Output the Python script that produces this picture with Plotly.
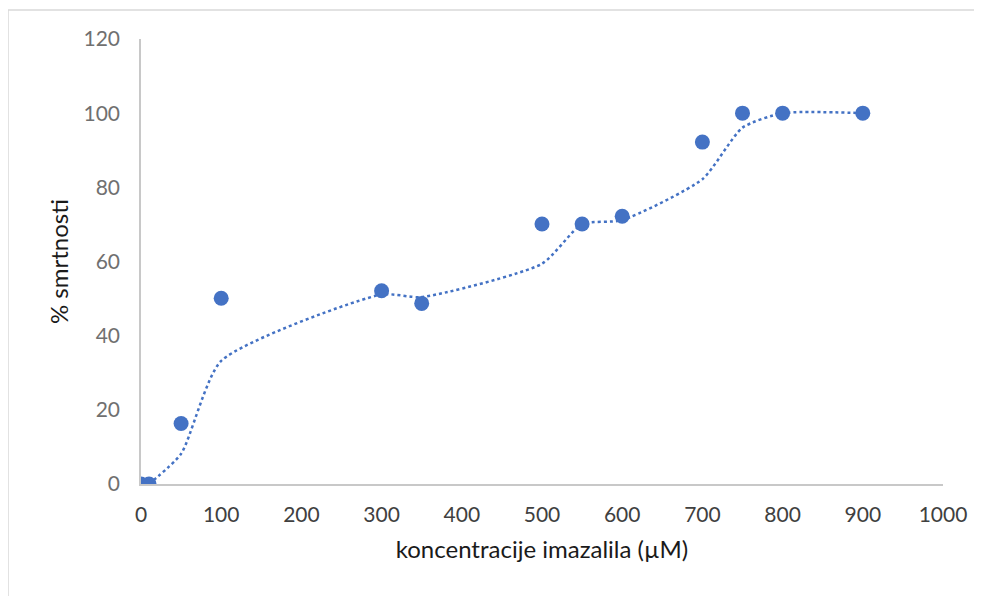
import plotly.graph_objects as go
import pandas as pd

# concentrations (µM) and mortality (%)
konc = [0, 10, 50, 100, 300, 350, 500, 550, 600, 700, 750, 800, 900]
smrt = [0, 0, 16.3, 50.1, 52.1, 48.7, 70.1, 70.1, 72.2, 92.2, 100, 100, 100]

x_ticks = [0, 100, 200, 300, 400, 500, 600, 700, 800, 900, 1000]
y_ticks = [0, 20, 40, 60, 80, 100, 120]

# 2-period moving-average trendline (as in the original chart)
trend = pd.Series(smrt).rolling(2).mean()
trend_x = konc[1:]
trend_y = trend.iloc[1:].tolist()

BLUE = "#4472C4"
FONT = "Lato, 'Open Sans', sans-serif"

# page body has an 8px margin: figure occupies page x 8..982, y 8..596
W, H = 974, 588
L, R, T, B = 133, 39, 31, 112
PW, PH = W - L - R, H - T - B

fig = go.Figure()
fig.add_trace(go.Scatter(
    x=trend_x, y=trend_y, mode="lines",
    line=dict(color=BLUE, width=2.5, dash="dot", shape="spline", smoothing=0.6),
    hoverinfo="skip", showlegend=False,
))
fig.add_trace(go.Scatter(
    x=konc, y=smrt, mode="markers",
    marker=dict(color=BLUE, size=15),
    showlegend=False,
))

fig.update_layout(
    width=W, height=H,
    margin=dict(l=L, r=R, t=T, b=B, autoexpand=False),
    paper_bgcolor="white", plot_bgcolor="white",
    font=dict(family=FONT),
    xaxis=dict(
        range=[0, 1000], tickvals=x_ticks, ticktext=[str(v) for v in x_ticks],
        showgrid=False, zeroline=False,
        showline=True, linecolor="#C8C8C8", linewidth=1.5,
        ticks="", tickfont=dict(size=21, color="#404040"),
        ticklabelstandoff=11,
        title=dict(text="koncentracije imazalila (µM)",
                   font=dict(size=24, color="#1a1a1a"), standoff=16),
    ),
    yaxis=dict(
        range=[0, 120], tickvals=y_ticks, ticktext=[str(v) for v in y_ticks],
        showgrid=False, zeroline=False,
        showline=True, linecolor="#C8C8C8", linewidth=1.5,
        ticks="", tickfont=dict(size=21, color="#707070"),
        ticklabelstandoff=15,
        title=dict(text="% smrtnosti", font=dict(size=24, color="#1a1a1a"), standoff=8),
    ),
    shapes=[dict(
        type="rect", xref="paper", yref="paper",
        x0=-L / PW, x1=1.2, y0=-0.5, y1=(PH + T - 2) / PH,
        line=dict(color="#D9D9D9", width=1.5), fillcolor="rgba(0,0,0,0)", layer="below",
    )],
)

fig.write_html("out.html")
